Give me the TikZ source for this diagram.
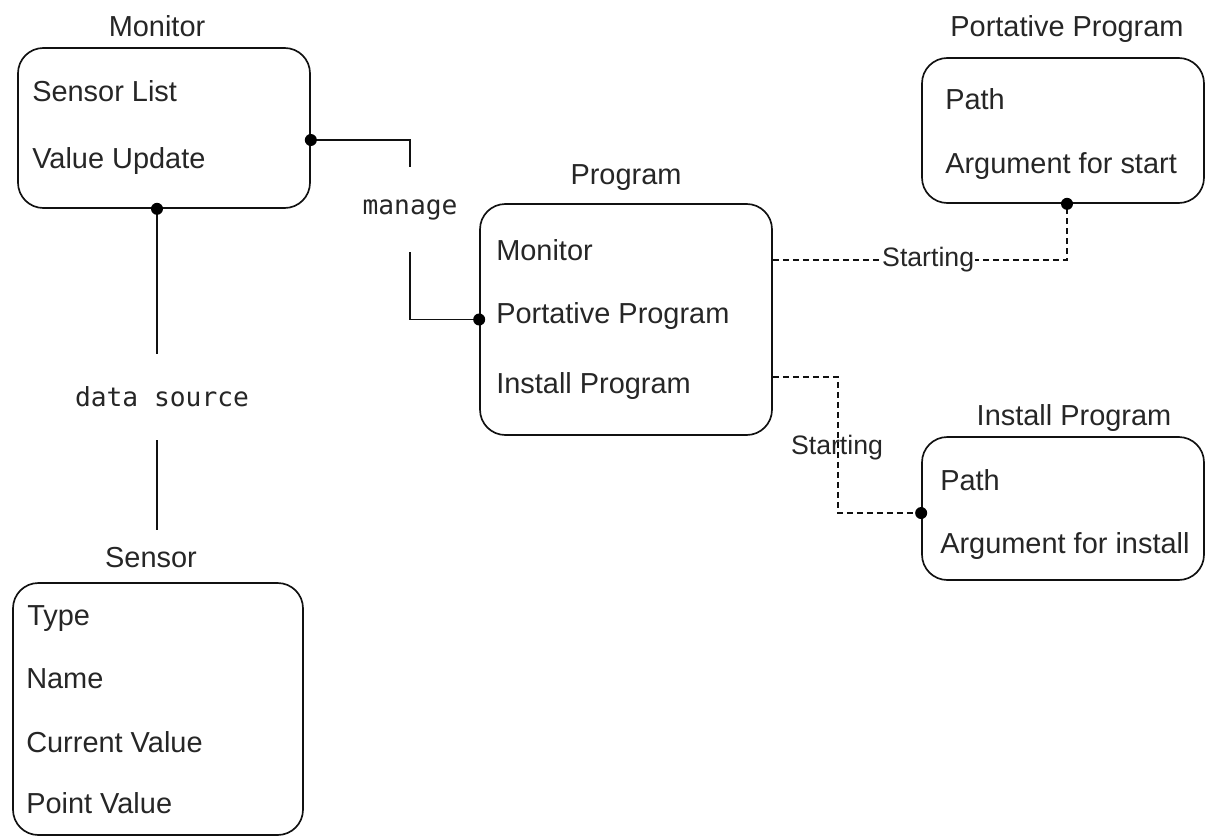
\documentclass[tikz,border=0pt]{standalone}
\usepackage{fontspec}
\setmainfont{Liberation Sans}
\setmonofont{DejaVu Sans Mono}
\definecolor{txt}{HTML}{262626}
\definecolor{ln}{HTML}{111111}
\begin{document}
\begin{tikzpicture}[x=0.75pt,y=-0.75pt,
  box/.style={draw=ln, line width=1.25pt, rounded corners=19pt, inner sep=0pt},
  item/.style={anchor=base west, inner sep=0pt, text=txt, font=\fontsize{21.7}{26}\selectfont},
  title/.style={anchor=base, inner sep=0pt, text=txt, font=\fontsize{21.7}{26}\selectfont},
  lbl/.style={inner sep=0pt, text=txt, font=\ttfamily\fontsize{19.7}{24}\selectfont},
  slbl/.style={inner sep=0pt, text=txt, font=\fontsize{20}{24}\selectfont},
  conn/.style={draw=ln, line width=1.25pt},
  dconn/.style={draw=ln, line width=1.1pt, dash pattern=on 4.5pt off 3pt},
  dot/.style={circle, fill=black, inner sep=0pt, minimum size=9pt}]
\useasboundingbox (0,0) rectangle (1205,838);

% boxes
\node[box, minimum width=219pt, minimum height=120pt] (mon) at (164,128) {};
\node[box, minimum width=219pt, minimum height=173.25pt] (prog) at (626,319.5) {};
\node[box, minimum width=217.5pt, minimum height=189pt] (sen) at (158,709) {};
\node[box, minimum width=211.5pt, minimum height=108.75pt] (port) at (1063,130.5) {};
\node[box, minimum width=211.5pt, minimum height=107.25pt] (inst) at (1063,508.5) {};

% titles
\node[title] (monT) at (157,37) {Monitor};
\node[title] (progT) at (626,185) {Program};
\node[title] (senT) at (151,567) {Sensor};
\node[title] (portT) at (1067,37) {Portative Program};
\node[title] (instT) at (1074,425) {Install Program};

% items
\node[item] (m1t) at (32,102) {Sensor List};
\node[item] (m2t) at (32,168) {Value Update};
\node[item] (p1t) at (496,260) {Monitor};
\node[item] (p2t) at (496,323) {Portative Program};
\node[item] (p3t) at (496,393) {Install Program};
\node[item] (o1t) at (945,110) {Path};
\node[item] (o2t) at (945,173) {Argument for start};
\node[item] (i1t) at (940,490) {Path};
\node[item] (i2t) at (940,553) {Argument for install};
\node[item] (s1t) at (27,625) {Type};
\node[item] (s2t) at (26,688) {Name};
\node[item] (s3t) at (26,752) {Current Value};
\node[item] (s4t) at (26,813) {Point Value};

% connector anchors
\coordinate (mdotR) at ([yshift=-9pt]mon.east);
\coordinate (mdotB) at ([xshift=-5.25pt]mon.south);
\coordinate (pdotL) at (prog.west);
\coordinate (pr1) at ([yshift=44.6pt]prog.east);
\coordinate (pr2) at ([yshift=-43.1pt]prog.east);
\coordinate (odot) at ([xshift=3pt]port.south);
\coordinate (idot) at ([yshift=-3.4pt]inst.west);
\coordinate (sEnd) at (157,530);

% labels
\node[lbl, minimum height=63.75pt] (manage) at (410,209.5) {manage};
\node[lbl, minimum height=64.5pt] (ds) at (162,397) {data source};
\node[slbl] (st2) at (837,448) {Starting};

% solid connectors
\draw[conn] (mdotR) -| (manage.north);
\draw[conn] (manage.south) |- (pdotL);
\draw[conn] (mdotB) -- (mdotB |- ds.north);
\draw[conn] (sEnd |- ds.south) -- (sEnd);

% dashed connectors
\draw[dconn] (pr1) -| node[pos=0.264, slbl, fill=white, inner xsep=1pt] (st1) {Starting} (odot);
\draw[dconn] (pr2) -- ++(65,0) |- (idot);

% dots
\node[dot] at (mdotR) {};
\node[dot] at (mdotB) {};
\node[dot] at (pdotL) {};
\node[dot] at (odot) {};
\node[dot] at (idot) {};
\end{tikzpicture}
\end{document}
